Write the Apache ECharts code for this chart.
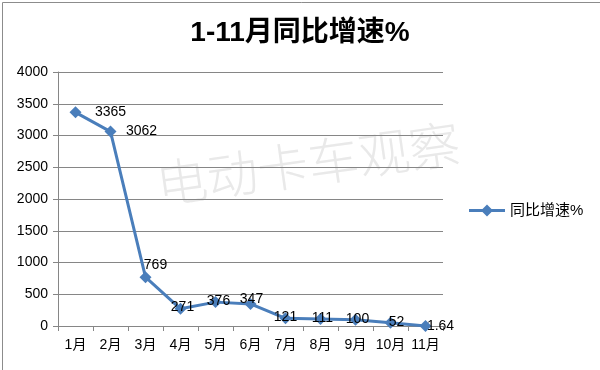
<!DOCTYPE html>
<html><head><meta charset="utf-8">
<script src="https://cdn.jsdelivr.net/npm/echarts@6/dist/echarts.min.js"></script>
<style>html,body{margin:0;padding:0;background:#fff}#c{width:600px;height:370px}</style>
</head><body><div id="c"></div>
<script>
const categories = ['1月','2月','3月','4月','5月','6月','7月','8月','9月','10月','11月'];
const values = [3365, 3062, 769, 271, 376, 347, 121, 111, 100, 52, 1.64];
const yTicks = [0, 500, 1000, 1500, 2000, 2500, 3000, 3500, 4000];
const seriesName = '同比增速%';
const titleText = '1-11月同比增速%';
const watermarkText = '电动卡车观察';
// label offsets (style only)
const labelOffsets = [[35,0],[31,0],[10,-12],[2,-2],[3,-1],[1,-5],[0,-1],[2,-1],[2,-1],[6,-1],[15,0]];

const FONT = '"Liberation Sans","Noto Sans CJK SC",sans-serif';
const chart = echarts.init(document.getElementById('c'), null, {renderer:'canvas'});
chart.setOption({
  animation:false,
  backgroundColor:'#fff',
  title:{text:titleText,left:'center',top:14,textStyle:{fontFamily:FONT,fontSize:28,fontWeight:'bold',color:'#000'}},
  grid:{left:58,right:157,top:72,bottom:44,containLabel:false},
  legend:{data:[{name:seriesName,icon:'path://M0,4.5L36,4.5L36,7.5L0,7.5Z M18,0L24,6L18,12L12,6Z'}],
    left:464,top:198,itemWidth:36,itemHeight:12,itemGap:6,
    itemStyle:{color:'#4A7EBB',borderWidth:0},
    textStyle:{fontFamily:FONT,fontSize:15,color:'#000'}},
  xAxis:{type:'category',data:categories,boundaryGap:true,
    axisLine:{lineStyle:{color:'#868686',width:1}},
    axisTick:{show:true,length:5,lineStyle:{color:'#868686'},alignWithLabel:false},
    axisLabel:{fontFamily:FONT,fontSize:14,color:'#000',margin:12,interval:0}},
  yAxis:{type:'value',min:yTicks[0],max:yTicks[yTicks.length-1],interval:yTicks[1]-yTicks[0],
    axisLine:{show:true,lineStyle:{color:'#868686',width:1}},
    axisTick:{show:true,length:5,lineStyle:{color:'#868686'}},
    splitLine:{lineStyle:{color:'#868686',width:1}},
    axisLabel:{fontFamily:FONT,fontSize:14,color:'#000',margin:10,formatter:v=>String(v)}},
  graphic:[
    {type:'rect',left:0,top:0,z:-10,shape:{x:0,y:0,width:599,height:369},style:{fill:null,stroke:'#8c8c8c',lineWidth:1},silent:true},
    {type:'text',z:-5,x:160,y:210,rotation:8*Math.PI/180,silent:true,
     style:{text:watermarkText,fontFamily:'"Noto Sans CJK SC",sans-serif',fontSize:51,fontWeight:300,fill:'#e9e9e9',textVerticalAlign:'bottom'}}
  ],
  series:[{
    name:seriesName,type:'line',z:5,
    data:values.map((v,i)=>({value:v,label:{offset:labelOffsets[i]}})),
    symbol:'diamond',symbolSize:12,
    lineStyle:{color:'#4A7EBB',width:3},
    itemStyle:{color:'#4A7EBB'},
    label:{show:true,position:'inside',fontFamily:FONT,fontSize:14,color:'#000'}
  }]
});
</script></body></html>
